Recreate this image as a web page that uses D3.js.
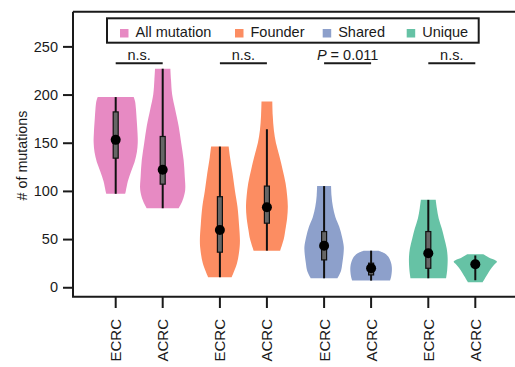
<!DOCTYPE html>
<html>
<head>
<meta charset="utf-8">
<script src="https://cdn.jsdelivr.net/npm/d3@7"></script>
<style>
  body { margin: 0; background: #fff; }
  svg { display: block; font-family: "Liberation Sans", Arial, sans-serif; }
</style>
</head>
<body>
<div id="chart"></div>
<script>
// Categories
const groups = ["All mutation", "Founder", "Shared", "Unique"];
const cohorts = ["ECRC", "ACRC"];
const colors = ["#e78ac3", "#fc8d62", "#8da0cb", "#66c2a5"];
const pLabels = ["n.s.", "n.s.", "P = 0.011", "n.s."];
const yTicks = [0, 50, 100, 150, 200, 250];

// Violin profiles: [value, relative density]
const allEcrc = [[97, 0.42], [100, 0.45], [110, 0.54], [120, 0.68], [130, 0.84], [140, 0.94], [150, 0.98], [160, 0.97], [175, 0.93], [185, 0.9], [193, 0.86], [197.4, 0.8]];
const allAcrc = [[82, 0.71], [90, 0.88], [101, 1.0], [115, 0.98], [132, 0.93], [150, 0.82], [167, 0.71], [185, 0.55], [200, 0.42], [215, 0.37], [226.8, 0.34]];
const founderEcrc = [[10.4, 0.52], [25, 0.76], [40, 0.87], [49, 0.89], [65, 0.85], [83.7, 0.78], [100, 0.67], [118.5, 0.56], [135, 0.45], [146, 0.39]];
const founderAcrc = [[38, 0.59], [50, 0.75], [59.5, 0.82], [72, 0.9], [83.7, 0.93], [95, 0.9], [108, 0.83], [122, 0.7], [135.7, 0.56], [150, 0.4], [163, 0.31], [178, 0.26], [192.9, 0.24]];
const sharedEcrc = [[9.3, 0.59], [17, 0.75], [25, 0.81], [34, 0.86], [42, 0.875], [52, 0.8], [63, 0.67], [73, 0.5], [83.7, 0.39], [95, 0.33], [105, 0.31]];
const sharedAcrc = [[6.9, 0.84], [11, 0.89], [16, 0.92], [21.4, 0.92], [26, 0.88], [31.8, 0.76], [35.5, 0.58], [38, 0.33]];
const uniqueEcrc = [[9.3, 0.79], [18, 0.84], [30, 0.86], [40, 0.82], [50.9, 0.71], [61, 0.6], [71.7, 0.46], [82, 0.38], [90.7, 0.33]];
const uniqueAcrc = [[5.2, 0.33], [10, 0.45], [15, 0.58], [20, 0.72], [24, 0.86], [26.6, 0.96], [28.5, 0.85], [31, 0.6], [34.3, 0.36]];
const profiles = [allEcrc, allAcrc, founderEcrc, founderAcrc, sharedEcrc, sharedAcrc, uniqueEcrc, uniqueAcrc];

// Box summary per violin (same order as profiles)
const medians = [153, 122, 59.5, 83, 43, 19.7, 35.3, 23.9];
const q1s = [134, 107, 36.4, 66.5, 28.4, 12.8, 19.7, 20.5];
const q3s = [182, 156.5, 94, 105, 57.8, 25, 57.8, 27];
const whiskerLow = [97, 82, 10.4, 38, 9.3, 6.9, 9.3, 7.3];
const whiskerHigh = [197.4, 226.8, 146, 164, 105, 38, 90.7, 33];

const W = 515, H = 367;
const svg = d3.select("#chart").append("svg").attr("width", W).attr("height", H);
const ink = "#1a1a1a";

const y = d3.scaleLinear().domain([-9.8, 286]).range([296.7, 11.7]);
const xGroup = d3.scaleBand().domain(groups).range([87.1, 503.9]);
const xInner = d3.scalePoint().domain(cohorts).range([-23.5, 23.5]);
const halfW = d3.scaleLinear().domain([0, 1]).range([0, 22.5]);

const cx = i => xGroup(groups[Math.floor(i / 2)]) + xGroup.bandwidth() / 2 + xInner(cohorts[i % 2]);

// Frame
svg.append("path")
  .attr("d", "M73,11.7 H520 M73,11.7 V296.7 H520")
  .attr("fill", "none").attr("stroke", ink).attr("stroke-width", 2);

// Y axis
const yAxis = svg.append("g").attr("transform", "translate(73,0)")
  .call(d3.axisLeft(y).tickValues(yTicks).tickSize(10).tickPadding(5));
yAxis.select(".domain").remove();
yAxis.selectAll(".tick line").attr("stroke", ink).attr("stroke-width", 2);
yAxis.selectAll(".tick text").attr("fill", ink).style("font-size", "14.5px");

svg.append("text")
  .attr("transform", "translate(22,155.5) rotate(-90)")
  .attr("text-anchor", "middle").attr("dy", "0.35em")
  .attr("fill", ink).style("font-size", "14.3px")
  .text("# of mutations");

// Violins
const area = d3.area()
  .curve(d3.curveCatmullRom.alpha(0.5))
  .y(d => y(d[0]));

profiles.forEach((prof, i) => {
  const c = cx(i);
  svg.append("path")
    .datum(prof)
    .attr("d", area.x0(d => c - halfW(d[1])).x1(d => c + halfW(d[1])))
    .attr("fill", colors[Math.floor(i / 2)]);
});

// Whiskers, boxes, medians
const idx = d3.range(profiles.length);
svg.selectAll(".whisker").data(idx).join("line")
  .attr("x1", cx).attr("x2", cx)
  .attr("y1", i => y(whiskerLow[i])).attr("y2", i => y(whiskerHigh[i]))
  .attr("stroke", "#111").attr("stroke-width", 2);

svg.selectAll(".box").data(idx).join("rect")
  .attr("x", i => cx(i) - 2.5).attr("width", 5)
  .attr("y", i => y(q3s[i])).attr("height", i => y(q1s[i]) - y(q3s[i]))
  .attr("fill", "#666").attr("stroke", "#111").attr("stroke-width", 1.2);

svg.selectAll(".median").data(idx).join("circle")
  .attr("cx", cx).attr("cy", i => y(medians[i])).attr("r", 5)
  .attr("fill", "#000");

// X axis ticks and labels
idx.forEach(i => {
  svg.append("line")
    .attr("x1", cx(i)).attr("x2", cx(i)).attr("y1", 296.7).attr("y2", 308)
    .attr("stroke", ink).attr("stroke-width", 2);
  svg.append("text")
    .attr("transform", `translate(${cx(i)},319) rotate(-90)`)
    .attr("text-anchor", "end").attr("dy", "0.36em")
    .attr("fill", ink).style("font-size", "15px")
    .text(cohorts[i % 2]);
});

// Significance bars
groups.forEach((g, k) => {
  const a = cx(k * 2), b = cx(k * 2 + 1);
  svg.append("line")
    .attr("x1", a).attr("x2", b).attr("y1", 63.3).attr("y2", 63.3)
    .attr("stroke", ink).attr("stroke-width", 2);
  const t = svg.append("text")
    .attr("x", (a + b) / 2).attr("y", 59.5)
    .attr("text-anchor", "middle").attr("fill", ink).style("font-size", "14.5px");
  if (pLabels[k].startsWith("P")) {
    t.append("tspan").style("font-style", "italic").text("P");
    t.append("tspan").text(pLabels[k].slice(1));
  } else {
    t.text(pLabels[k]);
  }
});

// Legend
const legend = svg.append("g");
legend.append("rect")
  .attr("x", 107).attr("y", 18.3).attr("width", 371.7).attr("height", 24.4)
  .attr("fill", "#fff").attr("stroke", ink).attr("stroke-width", 2);
const legendX = [120, 235, 322.7, 406.7];
groups.forEach((g, k) => {
  legend.append("rect")
    .attr("x", legendX[k]).attr("y", 29).attr("width", 8.5).attr("height", 8.5)
    .attr("fill", colors[k]);
  legend.append("text")
    .attr("x", legendX[k] + 15.5).attr("y", 36.7)
    .attr("fill", ink).style("font-size", "14.5px")
    .text(g);
});
</script>
</body>
</html>
